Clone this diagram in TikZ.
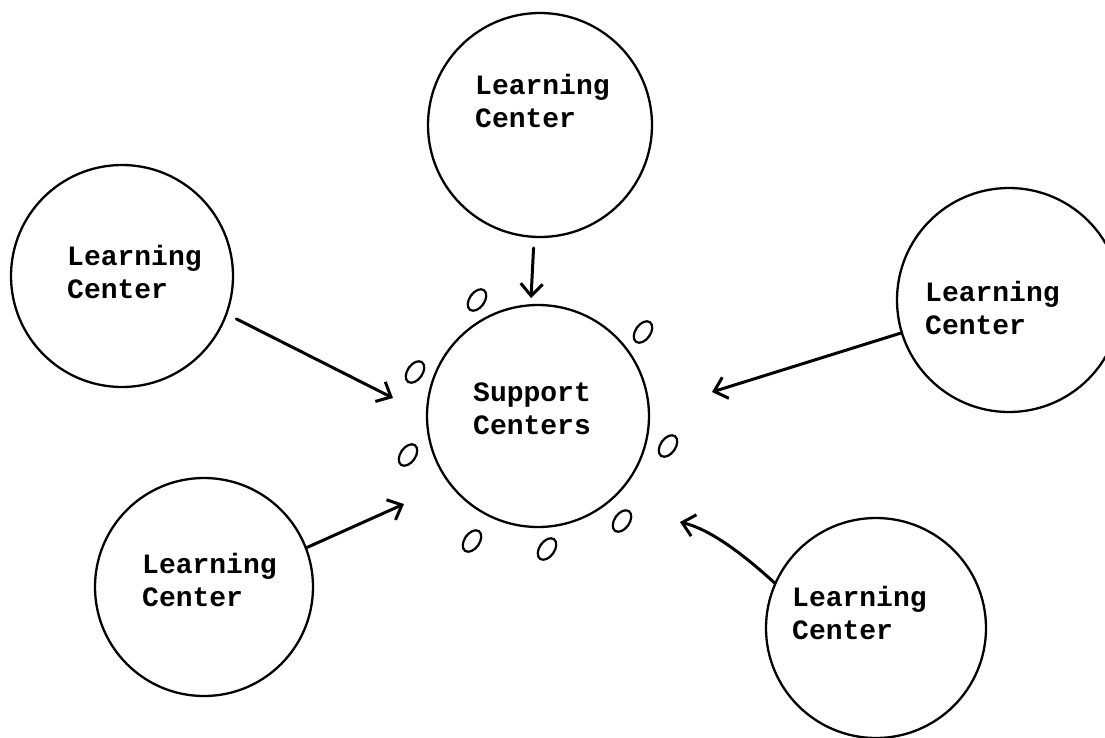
\documentclass[tikz,border=0pt]{standalone}
\usepackage{fontspec}
\setmonofont{Liberation Mono}
\usetikzlibrary{arrows.meta,shapes.geometric}
\begin{document}
\begin{tikzpicture}[x=1pt,y=-1pt,
  lc/.style={circle, draw, line width=2.3pt, inner sep=0pt, minimum size=#1},
  lbl/.style={anchor=base west, inner sep=0pt, font=\ttfamily\bfseries\fontsize{28}{33.5}\selectfont},
  arr/.style={line width=3pt, line cap=round, -{Straight Barb[length=12pt,width=22pt]}},
  oo/.style={ellipse, draw, line width=2.2pt, inner sep=0pt, minimum width=15pt, minimum height=24pt, rotate=-35},
]
\fill[white] (0,0) rectangle (1105,737);
\useasboundingbox (0,0) rectangle (1105,737);
\clip (0,0) rectangle (1105,737);

% circles
\node[lc=224pt] (lcT)  at (540,125) {};
\node[lc=222pt] (lcL)  at (122,276) {};
\node[lc=224pt] (lcR)  at (1009,300) {};
\node[lc=218pt] (lcBL) at (204,587) {};
\node[lc=220pt] (lcBR) at (876,628) {};
\node[lc=222pt] (sc)   at (538,416) {};

% labels
\node[lbl] (tT)  at (475,94)  {\begin{tabular}[t]{@{}l@{}}Learning\\Center\end{tabular}};
\node[lbl] (tL)  at (67,265)  {\begin{tabular}[t]{@{}l@{}}Learning\\Center\end{tabular}};
\node[lbl] (tR)  at (925,301) {\begin{tabular}[t]{@{}l@{}}Learning\\Center\end{tabular}};
\node[lbl] (tBL) at (142,573) {\begin{tabular}[t]{@{}l@{}}Learning\\Center\end{tabular}};
\node[lbl] (tBR) at (792,606) {\begin{tabular}[t]{@{}l@{}}Learning\\Center\end{tabular}};
\node[lbl] (tS)  at (473,401) {\begin{tabular}[t]{@{}l@{}}Support\\Centers\end{tabular}};

% arrow tips (free ends)
\coordinate (pT)  at (531,298);
\coordinate (pL)  at (393,398);
\coordinate (pR)  at (712,392);
\coordinate (pBL) at (404,504);
\coordinate (pBR) at (680,522);

\draw[arr, shorten <=10pt] (lcT.-93) -- (pT);
\draw[arr, shorten <=10pt] (lcL.-20) -- (pL);
\draw[arr] (lcR.197) -- (pR);
\draw[arr] (lcBL.21) -- (pBL);
\draw[arr] (lcBR.156) .. controls (745,556) and (712,530) .. (pBR);

% small circles around the support centre
\node[oo] (o1) at (477,300) {};
\node[oo] (o2) at (643,332) {};
\node[oo] (o3) at (415,372) {};
\node[oo] (o4) at (668,446) {};
\node[oo] (o5) at (408,455) {};
\node[oo] (o6) at (622,521) {};
\node[oo] (o7) at (472,541) {};
\node[oo] (o8) at (547,549) {};
\end{tikzpicture}
\end{document}
